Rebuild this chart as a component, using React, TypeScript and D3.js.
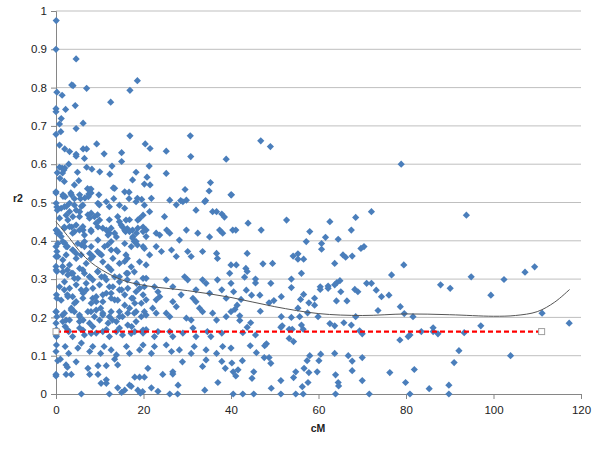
import React, { useEffect, useRef } from 'react';
import * as d3 from 'd3';

// scatter of r2 vs cM
const points: [number, number][] = [
  [0.05,0.975],[0,0.90],[4.6,0.875],[3.6,0.807],[3.9,0.805],[7.0,0.798],[0.2,0.788],[1.4,0.78],[18.6,0.818],[16.9,0.793],
  [12.5,0.762],[4.4,0.753],[0,0.745],[0,0.737],[2.2,0.743],[1.2,0.719],[0.8,0.705],[6.2,0.707],[4.6,0.693],[1.1,0.685],
  [0,0.678],[16.9,0.674],[30.7,0.674],[0.8,0.65],[9.3,0.653],[20.4,0.653],[2,0.64],[6.2,0.64],[7,0.64],[21.5,0.641],
  [3.1,0.633],[4.6,0.626],[4.6,0.621],[11,0.627],[15,0.63],[25.2,0.634],[30.8,0.62],[6.5,0.615],[38.9,0.613],[2.9,0.60],
  [0.8,0.592],[1.4,0.59],[2,0.59],[1.8,0.585],[7,0.592],[12.8,0.595],[15,0.607],[21.3,0.595],[8.2,0.587],[10,0.58],
  [4.9,0.579],[0.3,0.578],[1.5,0.577],[12.3,0.574],[18.3,0.579],[25.2,0.576],[20.8,0.566],[0.9,0.563],[1.9,0.555],[5.2,0.557],
  [17.5,0.559],[35.3,0.552],[4.2,0.546],[20.2,0.548],[21.5,0.546],[7.2,0.536],[7.5,0.522],[7.4,0.515],[8,0.535],[13.1,0.538],
  [16.7,0.527],[29.5,0.534],[0,0.525],[1.6,0.516],[2.1,0.515],[5.6,0.51],[3.4,0.525],[6.6,0.512],[40,0.52],[13.2,0.51],
  [16.7,0.51],[19.6,0.508],[34.2,0.505],[28.5,0.505],
  [0,0.528],[1.6,0.52],[3.5,0.52],[4.2,0.51],[5.4,0.52],[7.7,0.534],[8,0.525],[9.8,0.52],[13.4,0.537],[15.7,0.528],
  [18.6,0.511],[21.8,0.511],[26,0.506],[29.8,0.506],[34,0.502],[0.2,0.488],[0.3,0.48],[2.4,0.49],[3.1,0.476],[5.4,0.476],
  [5.8,0.49],[7.3,0.468],[8.8,0.463],[9.5,0.468],[9.9,0.494],[12.2,0.455],[14.5,0.45],[16.8,0.455],[19.1,0.458],[21.4,0.476],
  [24.8,0.463],[27.5,0.494],[29,0.502],[32,0.48],[35.8,0.476],[36.7,0.476],[37.9,0.47],[38.5,0.462],[35,0.53],
  [0.1,0.428],[0.3,0.42],[1.9,0.436],[3.6,0.436],[3.8,0.42],[4.6,0.441],[6.2,0.428],[6.5,0.415],[8,0.428],[9.6,0.436],
  [11.5,0.428],[12.2,0.42],[13.8,0.41],[15.2,0.436],[15.9,0.424],[16.3,0.432],[17.5,0.428],[18.4,0.42],[17.5,0.407],[19.9,0.436],
  [20.6,0.428],[22.9,0.42],[23.7,0.415],[25.3,0.428],[26,0.42],[28.2,0.402],[29.8,0.428],[32.4,0.42],[35.1,0.41],[37.4,0.428],
  [38.1,0.42],[40.4,0.428],
  [0,0.385],[0.2,0.372],[0,0.359],[2,0.394],[2.6,0.385],[3.8,0.376],[4.6,0.367],[5.8,0.389],[6.5,0.385],[7.7,0.367],
  [8,0.354],[9.5,0.372],[10.4,0.363],[11.8,0.389],[12.6,0.376],[14.1,0.372],[15.7,0.346],[16.3,0.354],[17.9,0.398],[18.6,0.389],
  [20.2,0.38],[21.4,0.363],[22.9,0.385],[24.1,0.372],[26.4,0.376],[27.5,0.359],[30.1,0.372],[30.9,0.359],[33.5,0.372],[36.7,0.367],
  [36.9,0.354],[40,0.337],
  [0,0.333],[0.2,0.32],[1.5,0.333],[2.6,0.324],[3.5,0.315],[4.2,0.302],[5.4,0.328],[6.5,0.315],[7.7,0.306],[8.4,0.298],
  [9.5,0.32],[10.4,0.306],[11.5,0.298],[12.2,0.28],[13.4,0.306],[14.5,0.293],[16.1,0.315],[16.3,0.298],[18.4,0.289],[19.1,0.276],
  [20.6,0.302],[22.5,0.28],[23.3,0.267],[25.2,0.298],[26.7,0.28],[29.4,0.306],[30.1,0.298],[32,0.272],[33.5,0.298],[34.3,0.289],
  [36.9,0.298],[37.9,0.272],[40,0.289],
  [0.1,0.259],[0.2,0.25],[1.9,0.272],[2.6,0.259],[3.8,0.254],[4.6,0.241],[6.2,0.263],[6.9,0.272],[8.4,0.25],[9.2,0.241],
  [10.7,0.259],[12.6,0.263],[13.4,0.246],[15,0.272],[15.7,0.259],[17.3,0.25],[18,0.237],[19.9,0.259],[20.6,0.246],[22.9,0.246],
  [23.7,0.254],[26.7,0.241],[28.6,0.259],[31.3,0.25],[32,0.241],[35.1,0.263],[38.9,0.25],
  [0,0.215],[0.2,0.202],[1.5,0.206],[2.3,0.193],[3.5,0.224],[4.2,0.215],[5.4,0.202],[6.2,0.193],[8,0.215],[8.8,0.202],
  [10.2,0.224],[10.7,0.211],[12.2,0.202],[12.9,0.193],[14.5,0.215],[15.2,0.202],[16.8,0.224],[17.9,0.211],[19.5,0.202],[20.2,0.215],
  [22.1,0.224],[22.9,0.211],[25.2,0.211],[26,0.202],[27.5,0.228],[29.8,0.198],[30.9,0.193],[32.8,0.224],[33.5,0.215],[35.8,0.211],
  [36.7,0.193],[38.9,0.202],[40,0.215],[0,0.185],
  [0.1,0.168],[0.1,0.15],[2.1,0.176],[2.9,0.163],[3.8,0.15],[5.4,0.172],[6.5,0.154],[8.4,0.176],[9.2,0.159],[11.5,0.168],
  [12.2,0.15],[14.5,0.172],[15.2,0.154],[17.3,0.176],[18,0.163],[19.9,0.159],[20.6,0.168],[22.5,0.15],[23.3,0.163],[26,0.163],
  [26.7,0.15],[29,0.159],[31.3,0.172],[32,0.15],[34.6,0.163],[35.4,0.15],[37.9,0.159],
  [0.1,0.128],[0,0.111],[2.1,0.124],[2.9,0.106],[5,0.12],[5.8,0.133],[7.7,0.111],[8.4,0.124],[10.2,0.106],[11,0.124],
  [12.6,0.115],[13.8,0.102],[16.1,0.124],[16.8,0.106],[19.1,0.115],[19.9,0.128],[21.8,0.106],[22.5,0.124],[25.2,0.128],[26.4,0.111],
  [28.2,0.115],[30.9,0.106],[31.6,0.124],[34.3,0.115],[36.7,0.106],[38.1,0.124],[40,0.12],
  [33.5,0.072],[34.3,0.089],[37.9,0.085],[38.7,0.067],[40.2,0.081],
  [0,0.051],[0,0.047],[0.4,0.087],[1,0.091],[2.3,0.076],[2.6,0.07],[4.6,0.084],[2.3,0.051],[3.5,0.051],[7.3,0.067],
  [7.7,0.051],[9.6,0.074],[9.6,0.051],[11.5,0.074],[11.5,0.037],[10.3,0.028],[11.5,0.028],[13.4,0.091],[14.1,0.076],[18,0.044],
  [19.1,0.044],[20.2,0.044],[21,0.067],[24.4,0.051],[26.7,0.058],[26.7,0.052],[28.9,0.084],[27.9,0.023],[5.8,0],[12.2,0],
  [15,0.004],[15.7,0.01],[14.1,0.016],[16.8,0.023],[17.2,0.02],[18.7,0.01],[19.3,0.002],[19.8,0.006],[21.8,0.016],[23.3,0.007],
  [26,0],[27.8,0],[34,0.01],[37,0.03],
  [40.1,0.52],[41.1,0.428],[43.9,0.446],[46.9,0.428],[52.7,0.454],[62.6,0.45],[68.5,0.461],[72.1,0.476],[58,0.424],[67.5,0.428],
  [57.2,0.398],[60.7,0.393],[60.7,0.378],[61.6,0.409],[64.5,0.404],[69.7,0.38],[70.4,0.385],[39.7,0.315],[41.2,0.337],[43.7,0.367],
  [43.4,0.328],[43.7,0.32],[43.1,0.305],[45.6,0.3],[45.6,0.29],[47.3,0.34],[49.5,0.341],[54.2,0.36],[55.3,0.366],[55.3,0.352],
  [56.6,0.352],[56.1,0.315],[53.8,0.3],[53.8,0.278],[63.7,0.341],[65.6,0.363],[66.2,0.357],[67.7,0.36],[40.6,0.267],[43.5,0.271],
  [44.7,0.258],[46.6,0.258],[49.1,0.289],[51.5,0.254],[49.8,0.244],[48.7,0.238],[42.3,0.247],[41.4,0.232],[40.9,0.221],[42,0.204],
  [42,0.192],[43.7,0.174],[44.5,0.186],[42.7,0.16],[45.6,0.154],[46.7,0.216],[44.4,0.126],[45.8,0.108],[48.1,0.131],[47.7,0.126],
  [47.6,0.095],[48.7,0.095],[49.1,0.08],[51.5,0.202],[51.4,0.174],[51.7,0.178],[53.3,0.169],[54,0.169],[53.3,0.145],[54.3,0.137],
  [53.8,0.2],[55.7,0.202],[55.3,0.224],[56.1,0.18],[56.5,0.169],[55.9,0.247],[56.6,0.26],[57.8,0.238],[59.1,0.25],[59.1,0.232],
  [57.5,0.212],[59.9,0.202],[60.4,0.28],[60.4,0.273],[62.2,0.282],[62.2,0.276],[63.7,0.285],[64.2,0.291],[64.9,0.296],[65.1,0.267],
  [64.1,0.243],[66.5,0.243],[68.3,0.273],[69,0.267],[71,0.289],[72.1,0.289],[73.2,0.271],[74.4,0.254],[76.1,0.258],[76.7,0.311],
  [79.5,0.337],[78.7,0.228],[79.6,0.21],[81.6,0.202],[73.6,0.218],[68.5,0.202],[62.6,0.184],[63.7,0.178],[65.8,0.186],[67.5,0.18],
  [69.4,0.165],[70,0.157],[78.6,0.141],[80.5,0.15],[80.9,0.154],[83.5,0.163],[58,0.1],[57.4,0.087],[60.1,0.087],[60.5,0.104],
  [63.7,0.106],[66.8,0.1],[67.7,0.086],[70,0.095],[56.7,0.067],[54.8,0.058],[57.8,0.056],[59.7,0.058],[54.3,0.043],[57.6,0.03],
  [56.3,0.019],[51.4,0.035],[49.2,0.015],[45.2,0.058],[44.8,0.041],[41.6,0.063],[41.1,0.047],[40.5,0.058],[42.6,0.087],[63.9,0.05],
  [64.5,0.03],[64.6,0.021],[67.7,0.061],[70,0.035],[76.3,0.056],[79.9,0.03],[81.9,0.064],[40.5,0],[42.7,0],[45.2,0],
  [51.4,0],[54.8,0],[56.5,0],[63.9,0],[71.6,0],[80.9,0],[85.3,0.014],
  [111.1,0.211],[117.3,0.185],[97.1,0.178],[86.2,0.173],[86.2,0.163],[87.3,0.157],[93.3,0.16],[92.1,0.113],[91,0.082],[103.9,0.1],
  [89.8,0.023],[89.8,0],[99.4,0.258],[93.8,0.467],[109.4,0.332],[107.2,0.318],[94.9,0.306],[102.4,0.299],[87.9,0.285],[90.1,0.276],
  [46.8,0.661],[49,0.646],[78.9,0.6]
];

// extra points from the dense cluster near the origin
const densePoints: [number, number][] = [
  [0.04,0.498],[1.18,0.485],[1.94,0.489],[3.09,0.498],[4.23,0.493],[4.61,0.48],[6.14,0.493],[8.04,0.472],[9.57,0.498],[11.5,0.502],
  [12.2,0.489],[14.5,0.493],[15.7,0.485],[18.3,0.502],[20.2,0.493],
  [0.8,0.459],[2.32,0.467],[2.71,0.454],[3.85,0.463],[5.37,0.463],[7.66,0.459],[9.95,0.454],[14.1,0.463],[16.0,0.454],[18.7,0.454],[19.9,0.467],
  [0.04,0.428],[0.8,0.42],[1.18,0.411],[1.94,0.433],[3.09,0.437],[4.23,0.424],[5.37,0.428],[6.14,0.437],[8.04,0.424],[9.18,0.446],
  [10.7,0.433],[11.9,0.415],[12.6,0.433],[13.4,0.42],[14.9,0.441],[15.7,0.428],[16.8,0.424],[17.6,0.411],[18.7,0.433],[19.9,0.424],[20.6,0.411],
  [0.42,0.393],[1.56,0.398],[2.32,0.385],[3.85,0.376],[4.99,0.393],[6.52,0.398],[8.04,0.385],[9.57,0.402],[11.1,0.385],[12.6,0.398],
  [13.8,0.376],[15.7,0.393],[17.2,0.385],[18.3,0.398],[19.9,0.385],
  [0.42,0.359],[1.56,0.35],[2.32,0.363],[3.09,0.337],[4.61,0.354],[5.75,0.363],[6.9,0.341],[8.42,0.359],[9.95,0.367],[10.7,0.345],
  [11.9,0.332],[13,0.354],[14.5,0.341],[16.0,0.363],[17.2,0.332],[19.1,0.345],[20.6,0.337],
  [0.04,0.324],[1.56,0.319],[2.71,0.311],[3.85,0.315],[4.99,0.302],[6.14,0.324],[7.66,0.306],[9.57,0.319],[11.1,0.306],[12.6,0.324],
  [14.5,0.306],[16.4,0.315],[17.9,0.319],[19.9,0.302],
  [0.8,0.28],[1.94,0.293],[3.09,0.276],[4.61,0.285],[5.75,0.272],[6.9,0.289],[8.42,0.276],[9.95,0.285],[11.5,0.263],[13,0.28],
  [14.5,0.272],[16.4,0.276],[18.3,0.267],[20.2,0.28],
  [1.18,0.245],[2.71,0.254],[4.23,0.237],[6.14,0.25],[8.04,0.237],[9.18,0.254],[10.7,0.241],[12.6,0.25],[14.1,0.245],[15.7,0.232],
  [17.6,0.25],[19.5,0.237],
  [0.04,0.215],[1.94,0.211],[3.47,0.219],[5.37,0.206],[7.28,0.215],[9.18,0.219],[10.7,0.206],[12.6,0.215],[14.5,0.202],[16.4,0.211],
  [18.3,0.215],[20.6,0.206],
  [1.56,0.189],[3.09,0.193],[5.37,0.189],[7.66,0.185],[9.95,0.193],[11.9,0.185],[13.8,0.189],[16.4,0.18],[18.3,0.189],
  [0.04,0.154],[2.71,0.167],[6.14,0.167],[8.04,0.158],[10.7,0.163],[13.8,0.163],[17.2,0.158],[19.9,0.167]
];

// polynomial trend line (Excel)
const trendX = [0, 3, 6, 9, 15, 21, 30, 40, 50, 60, 70, 80, 90, 100, 105, 110, 114, 117.4];
const trendY = [0.45, 0.408, 0.365, 0.335, 0.298, 0.282, 0.27, 0.252, 0.228, 0.21, 0.205, 0.209, 0.207, 0.203, 0.205, 0.215, 0.24, 0.273];

// threshold line
const thresholdX = [0, 111];
const thresholdY = 0.163;

const xTicks = [0, 20, 40, 60, 80, 100, 120];
const yTicks = [0, 0.1, 0.2, 0.3, 0.4, 0.5, 0.6, 0.7, 0.8, 0.9, 1];

const App = () => {
  const ref = useRef<SVGSVGElement>(null);

  useEffect(() => {
    const svg = d3.select(ref.current);
    svg.selectAll('*').remove();

    const margin = { top: 11, right: 19, bottom: 56, left: 56 };
    const width = 600, height = 450;
    const font = "'Liberation Sans', Arial, sans-serif";

    const x = d3.scaleLinear().domain([0, 120]).range([margin.left, width - margin.right]);
    const y = d3.scaleLinear().domain([0, 1]).range([height - margin.bottom, margin.top]);

    // gridlines
    svg.append('g')
      .selectAll('line')
      .data(yTicks.filter(d => d > 0))
      .enter()
      .append('line')
      .attr('x1', x(0)).attr('x2', x(120))
      .attr('y1', d => y(d)).attr('y2', d => y(d))
      .attr('stroke', '#bfbfbf')
      .attr('stroke-width', 1);

    // y axis
    const yAxis = svg.append('g')
      .attr('transform', `translate(${x(0)},0)`)
      .call(d3.axisLeft(y).tickValues(yTicks).tickSize(5).tickFormat(d => String(d)));
    yAxis.select('.domain').attr('stroke', '#868686');
    yAxis.selectAll('.tick line').attr('stroke', '#868686');
    yAxis.selectAll('.tick text')
      .attr('x', -9)
      .attr('fill', '#222')
      .style('font-family', font)
      .style('font-size', '11.5px');

    // x axis
    const xAxis = svg.append('g')
      .attr('transform', `translate(0,${y(0)})`)
      .call(d3.axisBottom(x).tickValues(xTicks).tickSize(5).tickFormat(d => String(d)));
    xAxis.select('.domain').attr('stroke', '#868686');
    xAxis.selectAll('.tick line').attr('stroke', '#868686');
    xAxis.selectAll('.tick text')
      .attr('y', 12)
      .attr('fill', '#222')
      .style('font-family', font)
      .style('font-size', '11.5px');

    // points
    const diamond = 'M0,-3.6L3.6,0L0,3.6L-3.6,0Z';
    svg.append('g')
      .selectAll('path')
      .data(points.concat(densePoints))
      .enter()
      .append('path')
      .attr('d', diamond)
      .attr('transform', d => `translate(${x(d[0])},${y(d[1])})`)
      .attr('fill', '#4a7ebb');

    // trend line
    const trend = trendX.map((v, i) => [v, trendY[i]] as [number, number]);
    svg.append('path')
      .datum(trend)
      .attr('d', d3.line<[number, number]>().x(d => x(d[0])).y(d => y(d[1])).curve(d3.curveCatmullRom))
      .attr('fill', 'none')
      .attr('stroke', '#555')
      .attr('stroke-width', 1);

    // threshold
    svg.append('line')
      .attr('x1', x(thresholdX[0])).attr('x2', x(thresholdX[1]))
      .attr('y1', y(thresholdY)).attr('y2', y(thresholdY))
      .attr('stroke', '#ff0000')
      .attr('stroke-width', 2.2)
      .attr('stroke-dasharray', '5,3');
    svg.append('g')
      .selectAll('rect')
      .data(thresholdX)
      .enter()
      .append('rect')
      .attr('x', d => x(d) - 3)
      .attr('y', y(thresholdY) - 3)
      .attr('width', 6).attr('height', 6)
      .attr('fill', 'white')
      .attr('stroke', '#a0a0a0');

    // axis titles
    svg.append('text')
      .attr('x', 18).attr('y', 202)
      .attr('text-anchor', 'middle')
      .style('font-family', font).style('font-size', '10.5px').style('font-weight', 'bold')
      .attr('fill', '#222')
      .text('r2');
    svg.append('text')
      .attr('x', 318).attr('y', 432)
      .attr('text-anchor', 'middle')
      .style('font-family', font).style('font-size', '10.5px').style('font-weight', 'bold')
      .attr('fill', '#222')
      .text('cM');
  }, []);

  return (
    <svg ref={ref} width={600} height={450}
      style={{ position: 'absolute', left: 0, top: 0, background: 'white' }} />
  );
};

export default App;
